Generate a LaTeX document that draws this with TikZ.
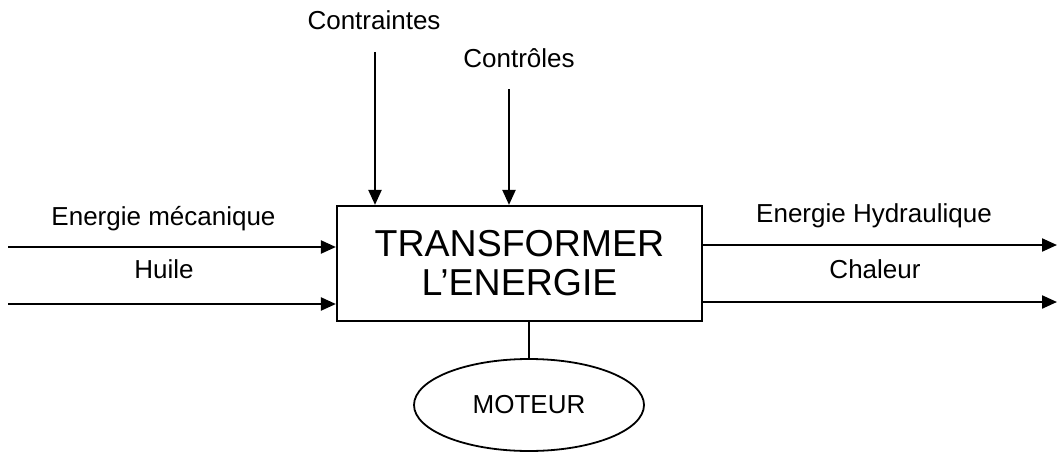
\documentclass[tikz,border=0pt]{standalone}
\usepackage{fontspec}
\setmainfont{Liberation Sans}
\usetikzlibrary{arrows.meta,shapes.geometric}
\tikzset{
  flow/.style={line width=2.2pt,-{Triangle[length=15pt,width=13pt]}},
  link/.style={line width=1.8pt},
  lbl/.style={anchor=base,inner sep=0pt,font=\fontsize{26}{30}\selectfont},
  mainbox/.style={draw,line width=2.2pt,minimum width=365pt,minimum height=115pt,inner sep=0pt,align=center,font=\fontsize{37.5}{38}\selectfont},
  oval/.style={draw,ellipse,line width=1.8pt,minimum width=230pt,minimum height=92pt,inner sep=0pt,font=\fontsize{26}{30}\selectfont}
}
\begin{document}
\begin{tikzpicture}[x=1pt,y=-1pt]
\useasboundingbox (0,0) rectangle (1057,452);
\node[mainbox] (box) at (519.5,263.5) {TRANSFORMER\\[1pt]L’ENERGIE};
\node[oval] (moteur) at (529,405) {MOTEUR};
\draw[link] (moteur.north) -- (moteur.north |- box.south);
% top inputs
\node[lbl] (contr) at (374,30) {Contraintes};
\node[lbl] (ctrl) at (519,67) {Contrôles};
\coordinate (c1) at (375,52);
\coordinate (c2) at (509,89);
\draw[flow] (c1) -- (c1 |- box.north);
\draw[flow] (c2) -- (c2 |- box.north);
% left inputs
\node[lbl] (em) at (163.5,225) {Energie mécanique};
\node[lbl] (hu) at (164,278) {Huile};
\coordinate (i1) at (8,247);
\coordinate (i2) at (8,304);
\draw[flow] (i1) -- (i1 -| box.west);
\draw[flow] (i2) -- (i2 -| box.west);
% right outputs
\node[lbl] (eh) at (874,222) {Energie Hydraulique};
\node[lbl] (ch) at (875,278) {Chaleur};
\coordinate (o1) at (1057,245);
\coordinate (o2) at (1057,302);
\draw[flow] (o1 -| box.east) -- (o1);
\draw[flow] (o2 -| box.east) -- (o2);
\end{tikzpicture}
\end{document}
